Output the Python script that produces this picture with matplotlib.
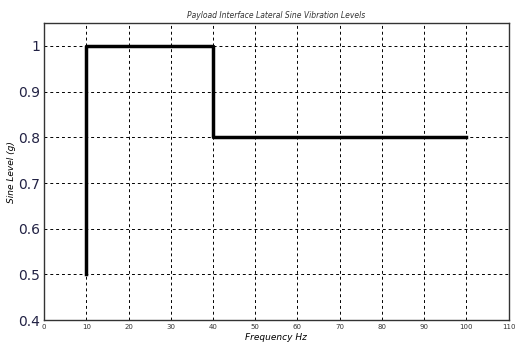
from matplotlib import pyplot as plt

freq = [10, 10, 40, 40, 100]
level = [0.5, 1.0, 1.0, 0.8, 0.8]
xticks = [0, 10, 20, 30, 40, 50, 60, 70, 80, 90, 100, 110]
yticks = [0.4, 0.5, 0.6, 0.7, 0.8, 0.9, 1.0]
ylabels = ['0.4', '0.5', '0.6', '0.7', '0.8', '0.9', '1']

fig = plt.figure(figsize = (5.18, 3.45), dpi = 100)
ax = fig.add_axes([0.085, 0.072, 0.897, 0.861])
ax.plot(freq, level, color = 'black', linewidth = 2.5)
ax.set_xlim(0, 110)
ax.set_ylim(0.4, 1.05)
ax.set_xticks(xticks)
ax.set_xticklabels([str(t) for t in xticks], fontsize = 5, color = '#333333')
ax.set_yticks(yticks)
ax.set_yticklabels(ylabels, fontsize = 10, color = '#222244')
ax.tick_params(length = 0, pad = 3)
ax.grid(True, color = 'black', linestyle = (0, (3, 3)), linewidth = 0.7)
for s in ax.spines.values():
    s.set_linewidth(1.0)
    s.set_color('#333333')
ax.set_title('Payload Interface Lateral Sine Vibration Levels', fontsize = 5.5,
             style = 'italic', color = '#333333', pad = 4)
ax.set_xlabel('Frequency Hz', fontsize = 6.5, style = 'italic', labelpad = 2)
ax.set_ylabel('Sine Level (g)', fontsize = 6.5, style = 'italic', labelpad = 1)
fig.savefig('out.png', dpi = 100)
